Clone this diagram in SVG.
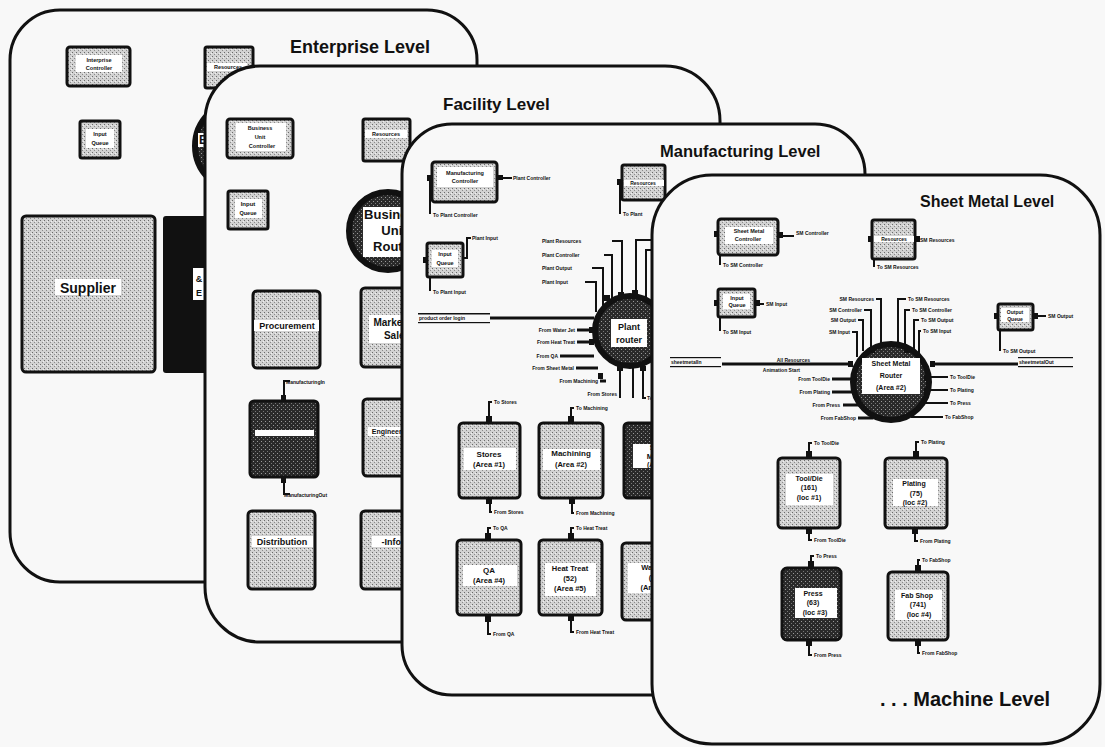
<svg xmlns="http://www.w3.org/2000/svg" width="1105" height="747" viewBox="0 0 1105 747">
<defs>
<pattern id="stip" width="4" height="4" patternUnits="userSpaceOnUse"><rect width="4" height="4" fill="#d2d2d2"/><rect x="0" y="0" width="1" height="1" fill="#6a6a6a"/><rect x="2" y="2" width="1" height="1" fill="#8a8a8a"/><rect x="3" y="1" width="1" height="1" fill="#f0f0f0"/></pattern>
<pattern id="dstip" width="4" height="4" patternUnits="userSpaceOnUse"><rect width="4" height="4" fill="#2a2a2a"/><rect x="1" y="1" width="1" height="1" fill="#9a9a9a"/><rect x="3" y="3" width="1" height="1" fill="#777"/></pattern>
<style>
.card{fill:#f8f8f8;stroke:#111;stroke-width:3}
.box{fill:url(#stip);stroke:#111;stroke-width:3}
.dark{fill:url(#dstip);stroke:#111;stroke-width:3}
.band{fill:#fff}
.port{fill:#111}
.ring{fill:url(#dstip);stroke:#111;stroke-width:6}
.ttl{font-family:"Liberation Sans",Arial,sans-serif;font-weight:bold;fill:#111}
.b{font-family:"Liberation Sans",Arial,sans-serif;font-weight:bold;fill:#111;text-anchor:middle}
.s{font-family:"Liberation Sans",Arial,sans-serif;font-weight:bold;fill:#111;font-size:5px}
.e{text-anchor:end}
.c path,.c line{fill:none;stroke:#111;stroke-width:2}
.c .thick{stroke-width:3}
</style>
</defs>
<rect width="1105" height="747" fill="#f8f8f8"/>

<!-- ============ ENTERPRISE LEVEL ============ -->
<g id="card-enterprise"><rect class="card" x="10" y="10" width="467" height="572" rx="50"/>
<text class="ttl" x="290" y="53" font-size="18">Enterprise Level</text></g>
<g id="ent-controller"><rect class="box" x="67" y="47" width="63" height="39" rx="3"/><rect class="band" x="76" y="55" width="46" height="17"/><text class="b" x="99" y="62" font-size="5.5">Interprise</text><text class="b" x="99" y="70" font-size="5.5">Controller</text></g>
<g id="ent-resources"><rect class="box" x="205" y="47" width="48" height="41" rx="2"/><rect class="band" x="207" y="63" width="40" height="8"/><text class="b" x="228" y="69" font-size="5.5">Resources</text></g>
<g id="ent-input"><rect class="box" x="80" y="121" width="40" height="37" rx="2"/><rect class="band" x="86" y="129" width="28" height="19"/><text class="b" x="100" y="136" font-size="5.5">Input</text><text class="b" x="100" y="145" font-size="5.5">Queue</text></g>
<g id="ent-router"><circle class="ring" cx="240" cy="146" r="45"/><rect class="band" x="198" y="133" width="70" height="14"/><text class="b" x="203" y="144" font-size="12">E</text></g>
<g id="supplier"><rect class="box" x="22" y="216" width="133" height="156" rx="4"/><rect class="band" x="55" y="279" width="66" height="16"/><text class="b" x="88" y="293" font-size="14">Supplier</text></g>
<g id="sales-eng"><rect x="163" y="216" width="50" height="157" rx="3" fill="#111"/><rect class="band" x="193" y="268" width="12" height="32"/><text class="b" x="199" y="282" font-size="9">&amp;</text><text class="b" x="199" y="296" font-size="9">E</text></g>

<!-- ============ FACILITY LEVEL ============ -->
<g id="card-facility"><rect class="card" x="205" y="66" width="515" height="576" rx="55"/>
<text class="ttl" x="443" y="110" font-size="17">Facility Level</text></g>
<g id="bu-controller"><rect class="box" x="227" y="119" width="66" height="39" rx="3"/><rect class="band" x="236" y="123" width="50" height="28"/><text class="b" x="260" y="130" font-size="5.5">Business</text><text class="b" x="260" y="139" font-size="5.5">Unit</text><text class="b" x="262" y="148" font-size="5.5">Controller</text></g>
<g id="fac-resources"><rect class="box" x="363" y="119" width="47" height="42" rx="2"/><rect class="band" x="365" y="130" width="42" height="8"/><text class="b" x="386" y="136" font-size="5.5">Resources</text></g>
<g id="fac-input"><rect class="box" x="228" y="191" width="40" height="38" rx="2"/><rect class="band" x="235" y="199" width="27" height="19"/><text class="b" x="248" y="206" font-size="6">Input</text><text class="b" x="248" y="215" font-size="5.5">Queue</text></g>
<g id="bu-router"><circle class="ring" cx="388" cy="231" r="39"/><rect class="band" x="363" y="207" width="60" height="50"/><text class="b" x="393" y="219" font-size="13">Business</text><text class="b" x="394" y="235" font-size="13">Unit</text><text class="b" x="394" y="251" font-size="13">Router</text></g>
<g id="procurement"><rect class="box" x="253" y="291" width="67" height="77" rx="4"/><rect class="band" x="254" y="320" width="65" height="11"/><text class="b" x="287" y="329" font-size="9">Procurement</text></g>
<g id="marketing"><rect class="box" x="361" y="288" width="55" height="79" rx="4"/><rect class="band" x="369" y="315" width="45" height="28"/><text class="b" x="397" y="326" font-size="10">Marketing</text><text class="b" x="397" y="339" font-size="10">Sales</text></g>
<g id="manufacturing"><rect class="dark" x="250" y="401" width="68" height="76" rx="4"/><rect class="band" x="255" y="430" width="59" height="6"/></g>
<g id="engineering"><rect class="box" x="363" y="399" width="50" height="77" rx="4"/><rect class="band" x="368" y="427" width="42" height="9"/><text class="b" x="392" y="434" font-size="7">Engineering</text></g>
<g id="distribution"><rect class="box" x="248" y="511" width="67" height="78" rx="4"/><rect class="band" x="252" y="536" width="61" height="11"/><text class="b" x="282" y="545" font-size="9">Distribution</text></g>
<g id="information"><rect class="box" x="361" y="511" width="55" height="78" rx="4"/><rect class="band" x="372" y="536" width="40" height="11"/><text class="b" x="393" y="545" font-size="9">-Infor</text></g>
<g id="fac-connectors" class="c">
<path d="M284,401 V381 H290"/><rect class="port" x="281" y="395" width="5" height="5"/>
<path d="M284,477 V494 H290"/><rect class="port" x="281" y="478" width="5" height="5"/>
</g>
<g id="fac-labels"><text class="s" x="286" y="384">ManufacturingIn</text><text class="s" x="284" y="497">ManufacturingOut</text></g>

<!-- ============ MANUFACTURING LEVEL ============ -->
<g id="card-manufacturing"><rect class="card" x="402" y="124" width="463" height="571" rx="50"/>
<text class="ttl" x="660" y="157" font-size="16.5">Manufacturing Level</text></g>
<g id="mfg-connectors" class="c">
<path d="M497,178 H512"/><path d="M430,178 V214"/>
<path d="M620,183 V214"/>
<path d="M463,258 H467 V238 H471"/><path d="M430,260 V291"/>
<path class="thick" d="M490,318 H594"/>
<path d="M612,241 H622 V300"/><path d="M604,255 H612 V302"/><path d="M592,268 H603 V306"/><path d="M585,282 H596 V312"/>
<path d="M636,296 V240 H660"/><path d="M646,298 V250 H660"/>
<path class="thick" d="M577,330 H592"/><path class="thick" d="M577,342 H592"/><path class="thick" d="M560,356 H594"/><path class="thick" d="M576,368 H598"/><path class="thick" d="M600,381 H606"/>
<path d="M620,368 V398"/><path d="M633,368 V398"/><path d="M643,368 V398 H646"/>
<path d="M489,423 V402 H492"/><path d="M490,498 V512 H492"/>
<path d="M571,423 V408 H574"/><path d="M572,498 V513 H574"/>
<path d="M488,540 V528 H491"/><path d="M488,615 V634 H491"/>
<path d="M571,540 V528 H574"/><path d="M571,615 V632 H574"/>
</g>
<g id="mfg-controller"><rect class="box" x="432" y="162" width="65" height="40" rx="3"/><rect class="band" x="437" y="167" width="56" height="20"/><text class="b" x="465" y="175" font-size="5.5">Manufacturing</text><text class="b" x="465" y="183" font-size="5.5">Controller</text><rect class="port" x="427" y="175" width="5" height="6"/><rect class="port" x="497" y="175" width="6" height="5"/></g>
<g id="mfg-resources"><rect class="box" x="622" y="165" width="43" height="35" rx="2"/><rect class="band" x="624" y="180" width="40" height="6"/><text class="b" x="643" y="185" font-size="5">Resources</text><rect class="port" x="617" y="179" width="5" height="6"/></g>
<g id="mfg-input"><rect class="box" x="427" y="243" width="36" height="34" rx="2"/><rect class="band" x="432" y="250" width="26" height="17"/><text class="b" x="445" y="256" font-size="5.5">Input</text><text class="b" x="445" y="265" font-size="5.5">Queue</text><rect class="port" x="423" y="257" width="4" height="6"/></g>
<g id="plant-router"><circle class="ring" cx="630" cy="331" r="35"/><rect class="band" x="611" y="319" width="36" height="28"/><text class="b" x="629" y="330" font-size="9">Plant</text><text class="b" x="629" y="343" font-size="9">router</text>
<rect class="port" x="604" y="295" width="6" height="6"/><rect class="port" x="618" y="292" width="6" height="6"/><rect class="port" x="632" y="290" width="6" height="6"/><rect class="port" x="589" y="327" width="5" height="6"/><rect class="port" x="589" y="339" width="5" height="6"/><rect class="port" x="598" y="373" width="5" height="6"/><rect class="port" x="617" y="366" width="6" height="5"/><rect class="port" x="640" y="366" width="6" height="5"/></g>
<g id="stores"><rect class="box" x="459" y="423" width="61" height="75" rx="4"/><rect class="band" x="464" y="448" width="52" height="22"/><text class="b" x="489" y="457" font-size="8">Stores</text><text class="b" x="489" y="467" font-size="7.5">(Area #1)</text><rect class="port" x="486" y="416" width="6" height="7"/><rect class="port" x="486" y="498" width="6" height="6"/></g>
<g id="machining"><rect class="box" x="539" y="423" width="64" height="75" rx="4"/><rect class="band" x="543" y="449" width="57" height="21"/><text class="b" x="571" y="456" font-size="8">Machining</text><text class="b" x="571" y="467" font-size="7.5">(Area #2)</text><rect class="port" x="568" y="416" width="6" height="7"/><rect class="port" x="569" y="498" width="6" height="6"/></g>
<g id="sheetmetal-area"><rect class="dark" x="624" y="423" width="40" height="75" rx="4"/><rect class="band" x="633" y="444" width="30" height="24"/><text class="b" x="652" y="450" font-size="7">S</text><text class="b" x="652" y="459" font-size="7.5">Me</text><text class="b" x="652" y="467" font-size="7">(Ar</text></g>
<g id="qa"><rect class="box" x="457" y="540" width="64" height="75" rx="4"/><rect class="band" x="463" y="565" width="54" height="21"/><text class="b" x="489" y="573" font-size="8">QA</text><text class="b" x="489" y="583" font-size="7.5">(Area #4)</text><rect class="port" x="485" y="533" width="6" height="7"/><rect class="port" x="485" y="615" width="6" height="7"/></g>
<g id="heat-treat"><rect class="box" x="539" y="540" width="63" height="75" rx="4"/><rect class="band" x="545" y="563" width="51" height="33"/><text class="b" x="570" y="571" font-size="7.5">Heat Treat</text><text class="b" x="570" y="581" font-size="7.5">(52)</text><rect class="port" x="568" y="533" width="6" height="7"/><rect class="port" x="568" y="615" width="6" height="6"/><text class="b" x="570" y="591" font-size="7.5">(Area #5)</text></g>
<g id="water-jet"><rect class="box" x="622" y="543" width="42" height="77" rx="4"/><rect class="band" x="628" y="563" width="30" height="30"/><text class="b" x="650" y="570" font-size="7.5">Wate</text><text class="b" x="652" y="580" font-size="7.5">(4</text><text class="b" x="650" y="590" font-size="7.5">(Area</text></g>
<g id="mfg-labels">
<text class="s" x="513" y="180">Plant Controller</text><text class="s" x="433" y="217">To Plant Controller</text><text class="s" x="623" y="216">To Plant</text>
<text class="s" x="472" y="240">Plant Input</text><text class="s" x="433" y="294">To Plant Input</text>
<rect x="418" y="313" width="72" height="1.5" fill="#111"/><text class="s" x="419" y="320">product order login</text><rect x="418" y="322" width="72" height="1.2" fill="#111"/>
<text class="s" x="542" y="243">Plant Resources</text><text class="s" x="542" y="257">Plant Controller</text><text class="s" x="542" y="270">Plant Output</text><text class="s" x="542" y="284">Plant Input</text>
<text class="s e" x="575" y="332">From Water Jet</text><text class="s e" x="575" y="344">From Heat Treat</text><text class="s e" x="558" y="358">From QA</text><text class="s e" x="574" y="370">From Sheet Metal</text><text class="s e" x="598" y="383">From Machining</text><text class="s e" x="617" y="396">From Stores</text><text class="s" x="647" y="400">To</text>
<text class="s" x="494" y="404">To Stores</text><text class="s" x="494" y="514">From Stores</text>
<text class="s" x="576" y="410">To Machining</text><text class="s" x="576" y="515">From Machining</text>
<text class="s" x="493" y="530">To QA</text><text class="s" x="493" y="636">From QA</text>
<text class="s" x="576" y="530">To Heat Treat</text><text class="s" x="576" y="634">From Heat Treat</text>
</g>

<!-- ============ SHEET METAL LEVEL ============ -->
<g id="card-sheetmetal"><rect class="card" x="652" y="175" width="448" height="569" rx="60"/>
<text class="ttl" x="920" y="207" font-size="16">Sheet Metal Level</text>
<text class="ttl" x="880" y="706" font-size="20">. . . Machine Level</text></g>
<g id="sm-connectors" class="c">
<path d="M778,236 H794"/><path d="M720,237 V265"/>
<path d="M915,240 H918"/><path d="M874,240 V267"/>
<path d="M755,304 H764"/><path d="M720,303 V331"/>
<path d="M1033,316 H1046"/><path d="M1000,317 V351"/>
<path class="thick" d="M722,364 H852"/><path class="thick" d="M931,364 H1018"/>
<path d="M876,299 H881 V344"/><path d="M864,310 H871 V347"/><path d="M858,320 H863 V351"/><path d="M852,332 H857 V357"/>
<path d="M898,343 V299 H906"/><path d="M905,345 V310 H910"/><path d="M914,350 V320 H919"/><path d="M919,356 V331 H921"/>
<path class="thick" d="M832,379 H852"/><path class="thick" d="M832,392 H852"/><path class="thick" d="M843,405 H860"/><path class="thick" d="M858,418 H872 V412"/>
<path d="M929,377 H948"/><path d="M929,390 H948"/><path d="M922,403 H948"/><path d="M912,412 V417 H943"/>
<path d="M809,458 V443 H812"/><path d="M809,528 V540 H812"/>
<path d="M916,458 V442 H919"/><path d="M915,528 V541 H918"/>
<path d="M811,568 V556 H814"/><path d="M809,640 V655 H812"/>
<path d="M918,572 V560 H920"/><path d="M918,640 V653 H920"/>
</g>
<g id="sm-controller"><rect class="box" x="718" y="219" width="60" height="36" rx="3"/><rect class="band" x="725" y="227" width="48" height="17"/><text class="b" x="749" y="233" font-size="5.5">Sheet Metal</text><text class="b" x="748" y="241" font-size="5.5">Controller</text><rect class="port" x="714" y="231" width="4" height="6"/><rect class="port" x="778" y="232" width="5" height="6"/></g>
<g id="sm-resources"><rect class="box" x="872" y="220" width="43" height="39" rx="2"/><rect class="band" x="874" y="236" width="40" height="6"/><text class="b" x="894" y="241" font-size="5">Resources</text><rect class="port" x="868" y="236" width="4" height="6"/><rect class="port" x="915" y="236" width="5" height="6"/></g>
<g id="sm-input"><rect class="box" x="718" y="289" width="37" height="28" rx="2"/><rect class="band" x="723" y="294" width="27" height="15"/><text class="b" x="737" y="300" font-size="5.5">Input</text><text class="b" x="737" y="307" font-size="5.5">Queue</text><rect class="port" x="714" y="300" width="4" height="6"/><rect class="port" x="755" y="300" width="5" height="6"/></g>
<g id="sm-output"><rect class="box" x="998" y="304" width="35" height="26" rx="2"/><rect class="band" x="1001" y="308" width="28" height="14"/><text class="b" x="1015" y="314" font-size="5">Output</text><text class="b" x="1015" y="321" font-size="5">Queue</text><rect class="port" x="994" y="313" width="4" height="6"/><rect class="port" x="1033" y="313" width="5" height="6"/></g>
<g id="sm-router"><circle class="ring" cx="891" cy="382" r="38"/><rect class="band" x="862" y="358" width="58" height="36"/><text class="b" x="891" y="366" font-size="7">Sheet Metal</text><text class="b" x="891" y="378" font-size="7">Router</text><text class="b" x="891" y="390" font-size="7">(Area #2)</text>
<rect class="port" x="848" y="361" width="5" height="6"/><rect class="port" x="930" y="361" width="5" height="6"/><rect class="port" x="869" y="347" width="6" height="6"/><rect class="port" x="904" y="347" width="6" height="6"/><rect class="port" x="852" y="376" width="5" height="6"/><rect class="port" x="924" y="375" width="5" height="6"/><rect class="port" x="852" y="389" width="5" height="6"/><rect class="port" x="924" y="388" width="5" height="6"/></g>
<g id="tooldie"><rect class="box" x="778" y="458" width="62" height="70" rx="4"/><rect class="band" x="786" y="474" width="47" height="31"/><text class="b" x="809" y="481" font-size="7">Tool/Die</text><text class="b" x="809" y="490" font-size="7">(161)</text><text class="b" x="809" y="500" font-size="7">(loc #1)</text><rect class="port" x="806" y="451" width="6" height="7"/><rect class="port" x="806" y="528" width="6" height="6"/></g>
<g id="plating"><rect class="box" x="885" y="458" width="62" height="70" rx="4"/><rect class="band" x="893" y="479" width="45" height="27"/><text class="b" x="914" y="486" font-size="7">Plating</text><text class="b" x="916" y="496" font-size="7">(75)</text><text class="b" x="915" y="505" font-size="7">(loc #2)</text><rect class="port" x="913" y="451" width="6" height="7"/><rect class="port" x="912" y="528" width="6" height="6"/></g>
<g id="press"><rect class="dark" x="782" y="568" width="59" height="72" rx="5"/><rect class="band" x="795" y="588" width="42" height="30"/><text class="b" x="813" y="596" font-size="7">Press</text><text class="b" x="813" y="605" font-size="7">(63)</text><text class="b" x="815" y="615" font-size="7">(loc #3)</text><rect class="port" x="808" y="561" width="6" height="7"/><rect class="port" x="806" y="640" width="6" height="6"/></g>
<g id="fabshop"><rect class="box" x="888" y="572" width="60" height="68" rx="4"/><rect class="band" x="895" y="590" width="47" height="30"/><text class="b" x="917" y="598" font-size="7">Fab Shop</text><text class="b" x="918" y="607" font-size="7">(741)</text><text class="b" x="919" y="617" font-size="7">(loc #4)</text><rect class="port" x="915" y="565" width="6" height="7"/><rect class="port" x="915" y="640" width="6" height="6"/></g>
<g id="sm-labels">
<text class="s" x="796" y="235">SM Controller</text><text class="s" x="723" y="267">To SM Controller</text>
<text class="s" x="920" y="242">SM Resources</text><text class="s" x="877" y="269">To SM Resources</text>
<text class="s" x="766" y="306">SM Input</text><text class="s" x="723" y="334">To SM Input</text>
<text class="s" x="1048" y="318">SM Output</text><text class="s" x="1003" y="353">To SM Output</text>
<rect x="670" y="357" width="51" height="1.2" fill="#111"/><text class="s" x="671" y="364">sheetmetalIn</text><rect x="670" y="366" width="51" height="1.2" fill="#111"/>
<rect x="1018" y="357" width="55" height="1.2" fill="#111"/><text class="s" x="1019" y="364">sheetmetalOut</text><rect x="1018" y="366" width="55" height="1.2" fill="#111"/>
<text class="s e" x="810" y="362">All Resources</text><text class="s e" x="800" y="372">Animation Start</text>
<text class="s e" x="830" y="381">From ToolDie</text><text class="s e" x="830" y="394">From Plating</text><text class="s e" x="840" y="407">From Press</text><text class="s e" x="856" y="420">From FabShop</text>
<text class="s e" x="874" y="301">SM Resources</text><text class="s e" x="862" y="312">SM Controller</text><text class="s e" x="856" y="322">SM Output</text><text class="s e" x="850" y="334">SM Input</text>
<text class="s" x="908" y="301">To SM Resources</text><text class="s" x="912" y="312">To SM Controller</text><text class="s" x="921" y="322">To SM Output</text><text class="s" x="923" y="333">To SM Input</text>
<text class="s" x="950" y="379">To ToolDie</text><text class="s" x="950" y="392">To Plating</text><text class="s" x="950" y="405">To Press</text><text class="s" x="945" y="419">To FabShop</text>
<text class="s" x="814" y="445">To ToolDie</text><text class="s" x="814" y="542">From ToolDie</text>
<text class="s" x="921" y="444">To Plating</text><text class="s" x="920" y="543">From Plating</text>
<text class="s" x="816" y="558">To Press</text><text class="s" x="814" y="657">From Press</text>
<text class="s" x="922" y="562">To FabShop</text><text class="s" x="922" y="655">From FabShop</text>
</g>
</svg>
